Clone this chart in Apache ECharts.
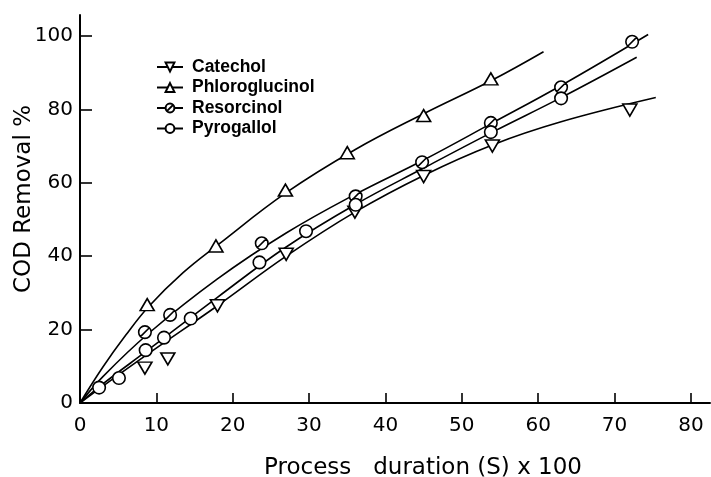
<!DOCTYPE html>
<html>
<head>
<meta charset="utf-8">
<style>
  html, body { margin: 0; padding: 0; background: #fff; }
  #chart { width: 711px; height: 477px; }
</style>
<script src="https://cdn.jsdelivr.net/npm/echarts@6/dist/echarts.min.js"></script>
</head>
<body>
<div id="chart"></div>
<script>
// Measured points: [process duration (s x 100), COD removal %]
const catecholPoints = [[8.5, 9.5], [11.5, 12], [18, 26.5], [27, 40.5], [36, 52], [45, 61.7], [54, 70], [72, 79.8]];
const phloroglucinolPoints = [[8.8, 26.8], [17.8, 42.8], [26.9, 58], [35, 68.2], [45, 78.3], [53.8, 88.3]];
const resorcinolPoints = [[8.5, 19.3], [11.8, 24], [23.8, 43.5], [36.1, 56.3], [44.8, 65.6], [53.8, 76.3], [63, 86], [72.3, 98.4]];
const pyrogallolPoints = [[2.5, 4.2], [5.1, 6.8], [8.6, 14.4], [11, 17.8], [14.5, 23], [23.5, 38.3], [29.6, 46.8], [36.1, 54], [53.8, 73.8], [63, 83]];

// Hand-fitted trend curves, knots along each drawn line
const catecholCurve = [[0, 0], [3, 4.6], [9, 13.5], [18, 26.5], [27, 40], [36, 52], [45, 62], [54, 70.3], [63, 76.6], [75.4, 83.2]];
const phloroglucinolCurve = [[0, 0], [3, 9.8], [6, 18.5], [9, 26.3], [13.5, 35.5], [18, 43], [27, 57.3], [36, 69], [45, 78.8], [54, 88], [60.7, 95.7]];
const resorcinolCurve = [[0, 0], [3, 7.2], [9, 19], [18, 33.8], [27, 46.3], [36, 56.8], [45, 66.2], [54, 76.3], [63, 86.5], [74.4, 100.4]];
const pyrogallolCurve = [[0, 0], [3, 5.2], [9, 14.6], [18, 28.8], [27, 42.5], [36, 54], [45, 64], [54, 73.8], [63, 83.2], [72.9, 94.2]];

const seriesNames = ['Catechol', 'Phloroglucinol', 'Resorcinol', 'Pyrogallol'];
const xTicks = [0, 10, 20, 30, 40, 50, 60, 70, 80];
const yTicks = [0, 20, 40, 60, 80, 100];

// Marker shapes
const symbols = {
  Catechol: 'path://M0,0L12,0L6,10Z',
  Phloroglucinol: 'path://M6,0L12,10L0,10Z',
  Resorcinol: 'path://M10,1A9,9,0,1,1,9.99,1ZM3.6,16.4L16.4,3.6',
  Pyrogallol: 'circle'
};
const symbolSizes = {
  Catechol: [14, 12],
  Phloroglucinol: [14, 12],
  Resorcinol: 12.5,
  Pyrogallol: 12.5
};

const curves = [catecholCurve, phloroglucinolCurve, resorcinolCurve, pyrogallolCurve];
const points = [catecholPoints, phloroglucinolPoints, resorcinolPoints, pyrogallolPoints];

const markerStyle = { color: '#fff', borderColor: '#000', borderWidth: 1.6, opacity: 1 };

const lineSeries = seriesNames.map((name, i) => ({
  name: name,
  type: 'line',
  data: curves[i],
  smooth: 0.4,
  showSymbol: false,
  symbol: symbols[name],
  symbolSize: symbolSizes[name],
  lineStyle: { color: '#000', width: 1.6 },
  itemStyle: markerStyle,
  z: 2
}));

const scatterSeries = seriesNames.map((name, i) => ({
  name: name,
  type: 'scatter',
  data: points[i],
  symbol: symbols[name],
  symbolSize: symbolSizes[name],
  itemStyle: markerStyle,
  z: 3
}));

const fontFamily = 'DejaVu Sans';

const chart = echarts.init(document.getElementById('chart'), null, { renderer: 'canvas' });
chart.setOption({
  animation: false,
  backgroundColor: '#fff',
  grid: { left: 80, right: 1, top: 15, bottom: 74, outerBoundsMode: 'none', containLabel: false },
  legend: {
    orient: 'vertical',
    left: 151,
    top: 52,
    itemWidth: 26,
    itemHeight: 11,
    itemGap: 0.5,
    selectedMode: false,
    data: seriesNames,
    textStyle: {
      fontFamily: 'Liberation Sans',
      fontWeight: 'bold',
      fontSize: 17.5,
      lineHeight: 20,
      color: '#000',
      padding: [0, 0, 0, 4]
    }
  },
  xAxis: {
    type: 'value',
    min: 0,
    max: 82.5,
    name: 'Process   duration (S) x 100',
    nameLocation: 'middle',
    nameGap: 54,
    nameMoveOverlap: false,
    nameTextStyle: {
      fontFamily: fontFamily,
      fontSize: 23,
      color: '#000',
      padding: [0, 0, 0, 56]
    },
    splitLine: { show: false },
    axisLine: { lineStyle: { color: '#000', width: 2 } },
    axisTick: {
      inside: true,
      length: 10,
      customValues: xTicks,
      lineStyle: { color: '#000', width: 1.6 }
    },
    axisLabel: {
      customValues: xTicks,
      margin: 13,
      fontFamily: fontFamily,
      fontSize: 20,
      color: '#000'
    }
  },
  yAxis: {
    type: 'value',
    min: 0,
    max: 105.7,
    name: 'COD Removal %',
    nameLocation: 'middle',
    nameGap: 44,
    nameMoveOverlap: false,
    nameTextStyle: {
      fontFamily: fontFamily,
      fontSize: 23,
      color: '#000',
      padding: [0, 0, 0, 20]
    },
    splitLine: { show: false },
    axisLine: { lineStyle: { color: '#000', width: 2 } },
    axisTick: {
      inside: true,
      length: 12,
      customValues: yTicks,
      lineStyle: { color: '#000', width: 1.6 }
    },
    axisLabel: {
      customValues: yTicks,
      margin: 7,
      fontFamily: fontFamily,
      fontSize: 20,
      color: '#000'
    }
  },
  series: lineSeries.concat(scatterSeries)
});
</script>
</body>
</html>
